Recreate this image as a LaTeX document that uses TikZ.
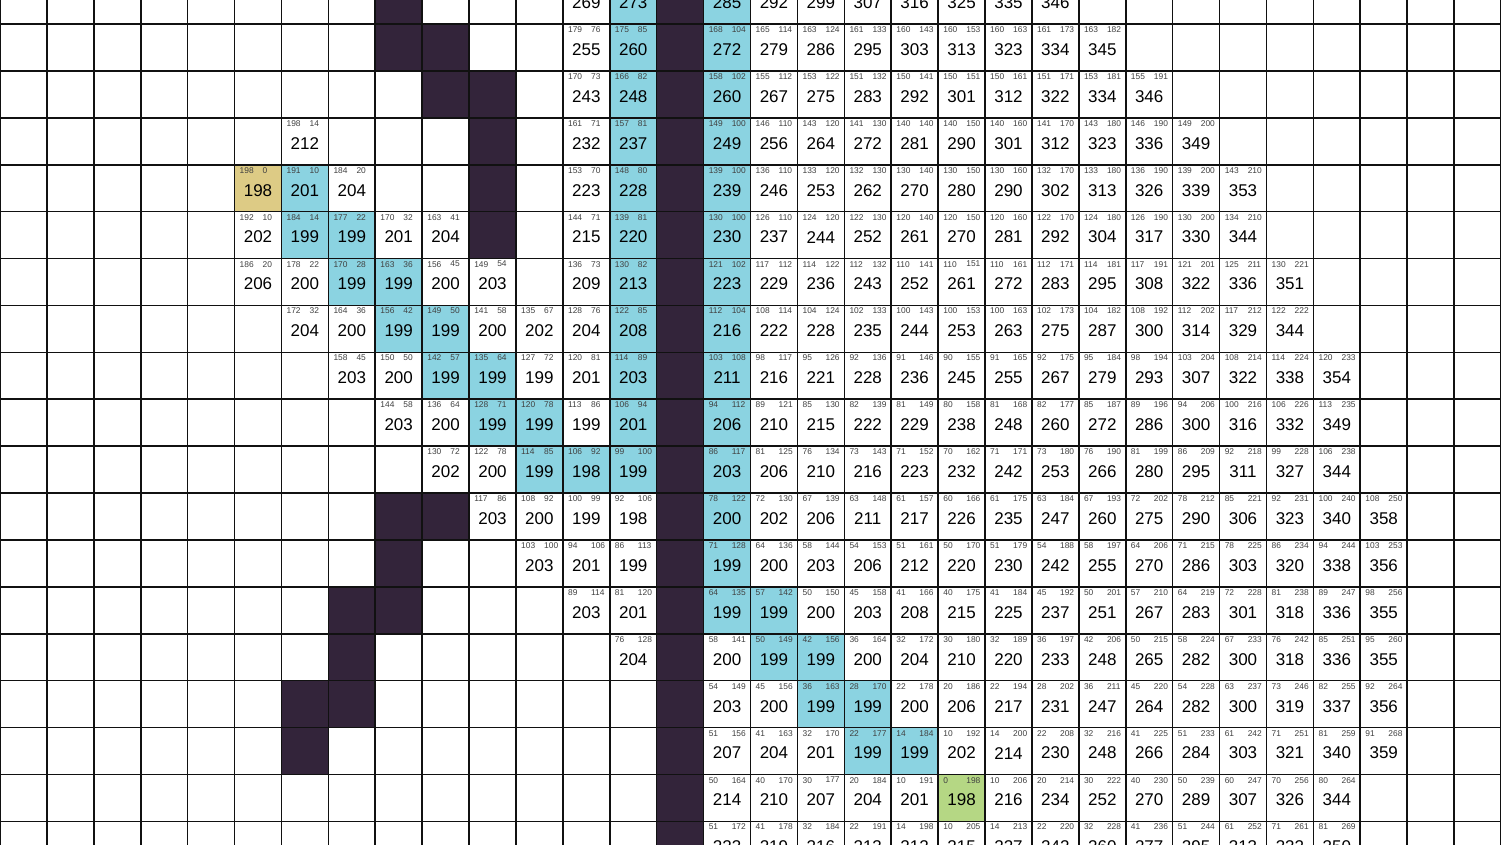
\documentclass[tikz,border=0pt]{standalone}
\usepackage{fontspec}
\setmainfont{Liberation Sans}
\definecolor{wallc}{HTML}{33243A}
\definecolor{pathc}{HTML}{8BD3E1}
\definecolor{startc}{HTML}{DDCB85}
\definecolor{goalc}{HTML}{B5D784}
\definecolor{gridc}{HTML}{111111}
\definecolor{smallc}{HTML}{404040}
\def\S{46.906}
\def\T{-22.906}
\newcommand{\astarcell}[5]{%
  \pgfmathsetmacro\cx{#1*\S}%
  \pgfmathsetmacro\cy{\T+#2*\S}%
  \node[gnum] (g-#1-#2) at (\cx+5,\cy+5.6) {#3};%
  \node[gnum] (h-#1-#2) at (\cx+28,\cy+5.6) {#4};%
  \node[fnum] (f-#1-#2) at (\cx+0.5*\S,\cy+25.5) {#5};%
}
\begin{document}
\begin{tikzpicture}[x=1pt,y=-1pt,
  gnum/.style={anchor=west,inner sep=0pt,font=\fontsize{8.4}{9}\selectfont,text=smallc},
  fnum/.style={anchor=center,inner sep=0pt,font=\fontsize{17}{19}\selectfont,text=black},
  gridline/.style={line width=1.6pt,draw=gridc}]
\useasboundingbox (0,0) rectangle (1501,844);
\begin{scope}
\clip (0,0) rectangle (1501,844);
\fill[white] (0,0) rectangle (1501,844);
% walls
\foreach \c/\r in {8/0,8/1,9/1,9/2,10/2,10/3,10/4,10/5,8/11,9/11,8/12,7/13,8/13,7/14,6/15,7/15,6/16}
  {\fill[wallc] (\c*\S,\T+\r*\S) rectangle ++(\S,\S);}
\foreach \r in {0,...,18}
  {\fill[wallc] (14*\S,\T+\r*\S) rectangle ++(\S,\S);}
% path
\foreach \r in {0,...,10}
  {\fill[pathc] (13*\S,\T+\r*\S) rectangle ++(\S,\S);}
\foreach \r in {0,...,13}
  {\fill[pathc] (15*\S,\T+\r*\S) rectangle ++(\S,\S);}
\foreach \c/\r in {6/4,6/5,7/5,7/6,8/6,8/7,9/7,9/8,10/8,10/9,11/9,11/10,12/10,16/13,16/14,17/14,17/15,18/15,18/16,19/16}
  {\fill[pathc] (\c*\S,\T+\r*\S) rectangle ++(\S,\S);}
\fill[startc] (5*\S,\T+4*\S) rectangle ++(\S,\S);
\fill[goalc] (20*\S,\T+17*\S) rectangle ++(\S,\S);
% grid
\foreach \i in {0,...,32} {\draw[gridline] (\i*\S,-30) -- (\i*\S,880);}
\foreach \j in {0,...,19} {\draw[gridline] (-5,\T+\j*\S) -- (1510,\T+\j*\S);}
% row 0 (only totals visible)
\foreach \c/\f in {12/269,13/273,15/285,16/292,17/299,18/307,19/316,20/325,21/335,22/346}
  {\node[fnum] (f-\c-0) at (\c*\S+0.5*\S,\T+25.5) {\f};}
% rows 1..18
\foreach \c/\g/\h/\f in {12/179/76/255,13/175/85/260,15/168/104/272,16/165/114/279,17/163/124/286,18/161/133/295,19/160/143/303,20/160/153/313,21/160/163/323,22/161/173/334,23/163/182/345}
  {\astarcell{\c}{1}{\g}{\h}{\f}}
\foreach \c/\g/\h/\f in {12/170/73/243,13/166/82/248,15/158/102/260,16/155/112/267,17/153/122/275,18/151/132/283,19/150/141/292,20/150/151/301,21/150/161/312,22/151/171/322,23/153/181/334,24/155/191/346}
  {\astarcell{\c}{2}{\g}{\h}{\f}}
\foreach \c/\g/\h/\f in {6/198/14/212,12/161/71/232,13/157/81/237,15/149/100/249,16/146/110/256,17/143/120/264,18/141/130/272,19/140/140/281,20/140/150/290,21/140/160/301,22/141/170/312,23/143/180/323,24/146/190/336,25/149/200/349}
  {\astarcell{\c}{3}{\g}{\h}{\f}}
\foreach \c/\g/\h/\f in {5/198/0/198,6/191/10/201,7/184/20/204,12/153/70/223,13/148/80/228,15/139/100/239,16/136/110/246,17/133/120/253,18/132/130/262,19/130/140/270,20/130/150/280,21/130/160/290,22/132/170/302,23/133/180/313,24/136/190/326,25/139/200/339,26/143/210/353}
  {\astarcell{\c}{4}{\g}{\h}{\f}}
\foreach \c/\g/\h/\f in {5/192/10/202,6/184/14/199,7/177/22/199,8/170/32/201,9/163/41/204,12/144/71/215,13/139/81/220,15/130/100/230,16/126/110/237,17/124/120/244,18/122/130/252,19/120/140/261,20/120/150/270,21/120/160/281,22/122/170/292,23/124/180/304,24/126/190/317,25/130/200/330,26/134/210/344}
  {\astarcell{\c}{5}{\g}{\h}{\f}}
\foreach \c/\g/\h/\f in {5/186/20/206,6/178/22/200,7/170/28/199,8/163/36/199,9/156/45/200,10/149/54/203,12/136/73/209,13/130/82/213,15/121/102/223,16/117/112/229,17/114/122/236,18/112/132/243,19/110/141/252,20/110/151/261,21/110/161/272,22/112/171/283,23/114/181/295,24/117/191/308,25/121/201/322,26/125/211/336,27/130/221/351}
  {\astarcell{\c}{6}{\g}{\h}{\f}}
\foreach \c/\g/\h/\f in {6/172/32/204,7/164/36/200,8/156/42/199,9/149/50/199,10/141/58/200,11/135/67/202,12/128/76/204,13/122/85/208,15/112/104/216,16/108/114/222,17/104/124/228,18/102/133/235,19/100/143/244,20/100/153/253,21/100/163/263,22/102/173/275,23/104/182/287,24/108/192/300,25/112/202/314,26/117/212/329,27/122/222/344}
  {\astarcell{\c}{7}{\g}{\h}{\f}}
\foreach \c/\g/\h/\f in {7/158/45/203,8/150/50/200,9/142/57/199,10/135/64/199,11/127/72/199,12/120/81/201,13/114/89/203,15/103/108/211,16/98/117/216,17/95/126/221,18/92/136/228,19/91/146/236,20/90/155/245,21/91/165/255,22/92/175/267,23/95/184/279,24/98/194/293,25/103/204/307,26/108/214/322,27/114/224/338,28/120/233/354}
  {\astarcell{\c}{8}{\g}{\h}{\f}}
\foreach \c/\g/\h/\f in {8/144/58/203,9/136/64/200,10/128/71/199,11/120/78/199,12/113/86/199,13/106/94/201,15/94/112/206,16/89/121/210,17/85/130/215,18/82/139/222,19/81/149/229,20/80/158/238,21/81/168/248,22/82/177/260,23/85/187/272,24/89/196/286,25/94/206/300,26/100/216/316,27/106/226/332,28/113/235/349}
  {\astarcell{\c}{9}{\g}{\h}{\f}}
\foreach \c/\g/\h/\f in {9/130/72/202,10/122/78/200,11/114/85/199,12/106/92/198,13/99/100/199,15/86/117/203,16/81/125/206,17/76/134/210,18/73/143/216,19/71/152/223,20/70/162/232,21/71/171/242,22/73/180/253,23/76/190/266,24/81/199/280,25/86/209/295,26/92/218/311,27/99/228/327,28/106/238/344}
  {\astarcell{\c}{10}{\g}{\h}{\f}}
\foreach \c/\g/\h/\f in {10/117/86/203,11/108/92/200,12/100/99/199,13/92/106/198,15/78/122/200,16/72/130/202,17/67/139/206,18/63/148/211,19/61/157/217,20/60/166/226,21/61/175/235,22/63/184/247,23/67/193/260,24/72/202/275,25/78/212/290,26/85/221/306,27/92/231/323,28/100/240/340,29/108/250/358}
  {\astarcell{\c}{11}{\g}{\h}{\f}}
\foreach \c/\g/\h/\f in {11/103/100/203,12/94/106/201,13/86/113/199,15/71/128/199,16/64/136/200,17/58/144/203,18/54/153/206,19/51/161/212,20/50/170/220,21/51/179/230,22/54/188/242,23/58/197/255,24/64/206/270,25/71/215/286,26/78/225/303,27/86/234/320,28/94/244/338,29/103/253/356}
  {\astarcell{\c}{12}{\g}{\h}{\f}}
\foreach \c/\g/\h/\f in {12/89/114/203,13/81/120/201,15/64/135/199,16/57/142/199,17/50/150/200,18/45/158/203,19/41/166/208,20/40/175/215,21/41/184/225,22/45/192/237,23/50/201/251,24/57/210/267,25/64/219/283,26/72/228/301,27/81/238/318,28/89/247/336,29/98/256/355}
  {\astarcell{\c}{13}{\g}{\h}{\f}}
\foreach \c/\g/\h/\f in {13/76/128/204,15/58/141/200,16/50/149/199,17/42/156/199,18/36/164/200,19/32/172/204,20/30/180/210,21/32/189/220,22/36/197/233,23/42/206/248,24/50/215/265,25/58/224/282,26/67/233/300,27/76/242/318,28/85/251/336,29/95/260/355}
  {\astarcell{\c}{14}{\g}{\h}{\f}}
\foreach \c/\g/\h/\f in {15/54/149/203,16/45/156/200,17/36/163/199,18/28/170/199,19/22/178/200,20/20/186/206,21/22/194/217,22/28/202/231,23/36/211/247,24/45/220/264,25/54/228/282,26/63/237/300,27/73/246/319,28/82/255/337,29/92/264/356}
  {\astarcell{\c}{15}{\g}{\h}{\f}}
\foreach \c/\g/\h/\f in {15/51/156/207,16/41/163/204,17/32/170/201,18/22/177/199,19/14/184/199,20/10/192/202,21/14/200/214,22/22/208/230,23/32/216/248,24/41/225/266,25/51/233/284,26/61/242/303,27/71/251/321,28/81/259/340,29/91/268/359}
  {\astarcell{\c}{16}{\g}{\h}{\f}}
\foreach \c/\g/\h/\f in {15/50/164/214,16/40/170/210,17/30/177/207,18/20/184/204,19/10/191/201,20/0/198/198,21/10/206/216,22/20/214/234,23/30/222/252,24/40/230/270,25/50/239/289,26/60/247/307,27/70/256/326,28/80/264/344}
  {\astarcell{\c}{17}{\g}{\h}{\f}}
\foreach \c/\g/\h/\f in {15/51/172/223,16/41/178/219,17/32/184/216,18/22/191/213,19/14/198/212,20/10/205/215,21/14/213/227,22/22/220/242,23/32/228/260,24/41/236/277,25/51/244/295,26/61/252/313,27/71/261/332,28/81/269/350}
  {\astarcell{\c}{18}{\g}{\h}{\f}}
\end{scope}
\end{tikzpicture}
\end{document}
